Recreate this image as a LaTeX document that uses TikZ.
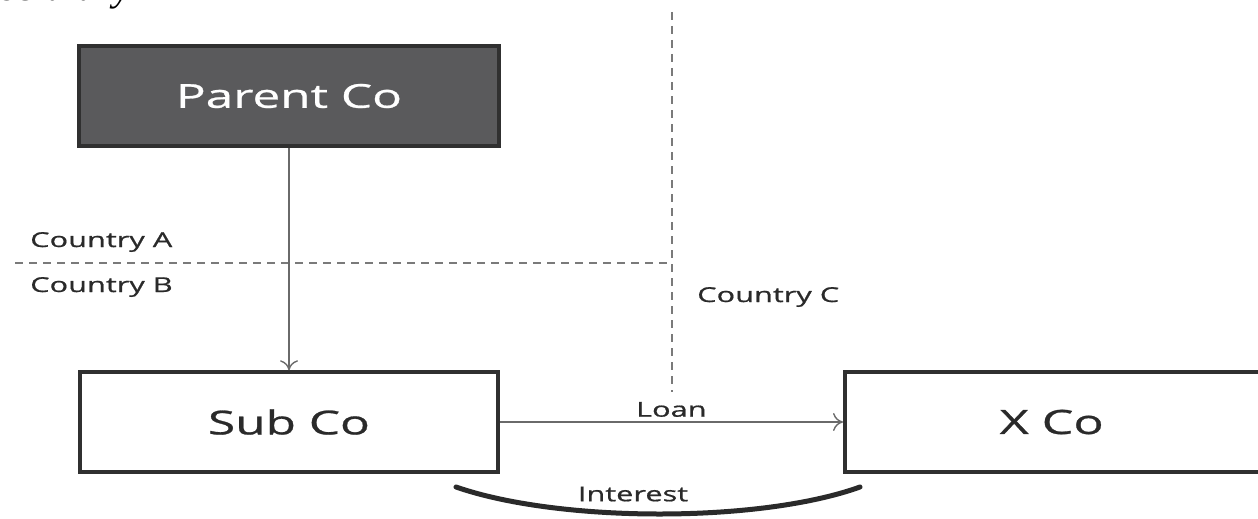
\documentclass[tikz,border=0pt]{standalone}
\usepackage{fontspec}
\setmainfont[FakeStretch=1.5, FakeBold=0.8]{Open Sans}
\newfontfamily\serifit{Liberation Serif}
\usetikzlibrary{arrows.meta}
\definecolor{boxline}{HTML}{303030}
\definecolor{boxdark}{HTML}{5A5A5C}
\definecolor{wire}{HTML}{6A6A6A}
\definecolor{dashgray}{HTML}{7A7A7A}
\definecolor{ink}{HTML}{2A2A2A}
\tikzset{
  company/.style={draw=boxline, line width=3.5pt, minimum height=100pt, inner sep=0pt},
  flow/.style={draw=wire, line width=1.6pt, -{To[length=10pt,width=18pt,line width=1.4pt]}},
  border/.style={draw=dashgray, line width=1.8pt, dash pattern=on 8pt off 6pt},
  region/.style={font=\fontsize{20.5}{24}\selectfont, text=ink, anchor=base west, inner sep=0pt},
  tag/.style={font=\fontsize{20.5}{24}\selectfont, text=ink},
}
\begin{document}
\begin{tikzpicture}[x=1pt, y=-1pt]
\useasboundingbox (0,0) rectangle (1258,519);
\begin{scope}
\clip (0,0) rectangle (1258,519);
% caption running off the top edge
\node[anchor=base east, inner sep=0pt, font=\serifit\itshape\fontsize{40}{40}\selectfont] (cap) at (131,1) {subsidiary};
% company boxes
\node[company, fill=boxdark, minimum width=420pt, text=white,
      font=\fontsize{33}{40}\selectfont] (parent) at (289,96) {Parent Co};
\node[company, fill=white, minimum width=418pt, text=ink,
      font=\fontsize{33}{38}\selectfont] (sub) at (289,422) {Sub Co};
\node[company, fill=white, minimum width=440pt, text=ink, anchor=west,
      font=\fontsize{33.5}{38}\selectfont] (xco) at (843,422) {\hspace*{-26pt}X Co};
\end{scope}
% country borders
\coordinate (hl) at (15,263);
\coordinate (hr) at (672,263);
\coordinate (vt) at (672,12);
\coordinate (vb) at (672,392);
\draw[border] (hl) -- (hr);
\draw[border] (vt) -- (vb);
\node[region] (ca) at (30,247) {Country A};
\node[region] (cb) at (30,292) {Country B};
\node[region] (cc) at (697,302) {Country C};
% flows
\draw[flow] (parent.south) -- (sub.north);
\draw[flow] (sub.east) -- node[tag, above=1pt] (loan) {Loan} (xco.west);
% interest returned
\coordinate (il) at (456,487);
\coordinate (ir) at (860,487);
\draw[draw=ink, line width=5pt, line cap=round] (il) .. controls (560,523) and (760,523) .. (ir);
\node[tag] (int) at (633,494) {Interest};
\end{tikzpicture}
\end{document}
